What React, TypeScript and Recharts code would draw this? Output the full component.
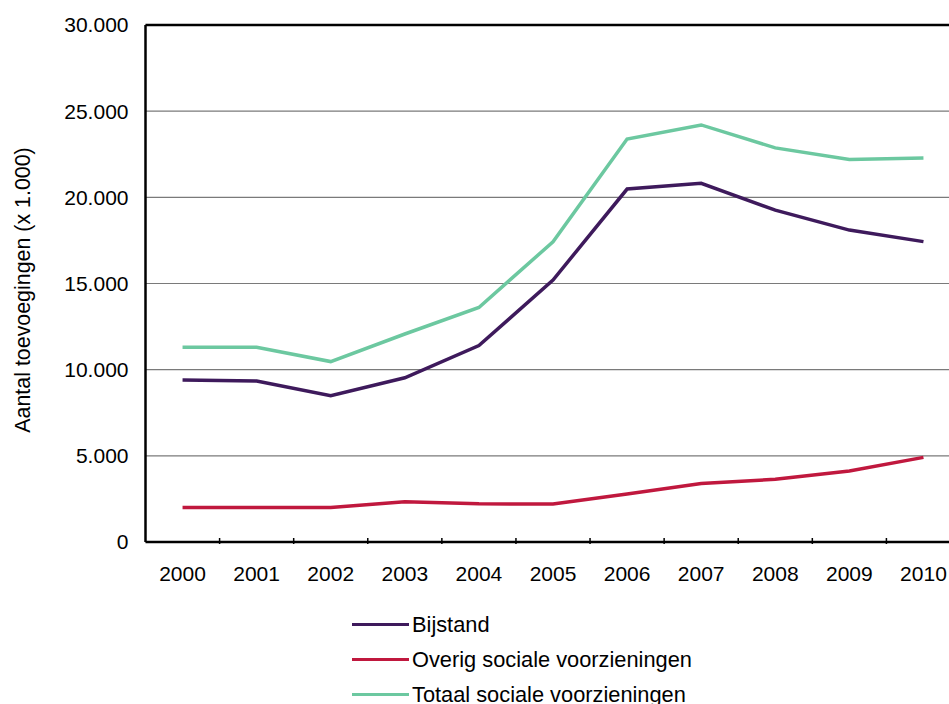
import { CartesianGrid, Line, LineChart, ReferenceLine, XAxis, YAxis } from 'recharts';

const years = ['2000', '2001', '2002', '2003', '2004', '2005', '2006', '2007', '2008', '2009', '2010'];
const bijstand = [9400, 9340, 8490, 9530, 11400, 15200, 20480, 20810, 19260, 18100, 17430];
const overig = [2000, 2000, 2000, 2340, 2220, 2200, 2790, 3400, 3640, 4120, 4910];
const totaal = [11300, 11300, 10470, 12070, 13610, 17420, 23380, 24200, 22870, 22200, 22280];
const yTicks = [0, 5000, 10000, 15000, 20000, 25000, 30000];

const series = [
  { key: 'bijstand', label: 'Bijstand', color: '#3e1a5c' },
  { key: 'overig', label: 'Overig sociale voorzieningen', color: '#c0183e' },
  { key: 'totaal', label: 'Totaal sociale voorzieningen', color: '#6cc8a0' },
];

const data = years.map((year, i) => ({
  year,
  bijstand: bijstand[i],
  overig: overig[i],
  totaal: totaal[i],
}));

const font = '"Liberation Sans", Arial, sans-serif';

// 25000 -> "25.000"
const formatThousands = (v: number) => String(v).replace(/\B(?=(\d{3})+(?!\d))/g, '.');

const renderYLabel = () => (
  <text
    transform="translate(23,290) rotate(-90)"
    textAnchor="middle"
    dominantBaseline="central"
    fontSize={21.4}
    fill="#000"
    fontFamily={font}
  >
    Aantal toevoegingen (x 1.000)
  </text>
);

// year label under the band centre, small tick mark on the right band edge (pointing into the plot)
const YearTick = (props: any) => {
  const { x, y, payload, index } = props;
  const half = payload.offset || 0;
  return (
    <g>
      {index < years.length - 1 && (
        <line x1={x + half} x2={x + half} y1={y} y2={y - 6} stroke="#000" strokeWidth={1.5} />
      )}
      <text x={x} y={y + 22} dy="0.71em" textAnchor="middle" fontSize={21} fill="#000" fontFamily={font}>
        {payload.value}
      </text>
    </g>
  );
};

export default function App() {
  return (
    <div
      style={{
        position: 'absolute',
        left: 0,
        top: 0,
        width: 949,
        height: 704,
        overflow: 'hidden',
        background: '#fff',
        fontFamily: font,
      }}
    >
      <LineChart
        width={970}
        height={704}
        data={data}
        margin={{ top: 25, right: 9.5, left: 0, bottom: 0 }}
        style={{ fontFamily: font }}
      >
        <CartesianGrid vertical={false} stroke="#7a7a7a" strokeWidth={1.2} />
        <XAxis
          dataKey="year"
          scale="band"
          height={162}
          tickLine={false}
          tickSize={0}
          axisLine={{ stroke: '#000', strokeWidth: 2.5 }}
          tick={<YearTick />}
          interval={0}
        />
        <YAxis
          width={145.5}
          domain={[0, 30000]}
          ticks={yTicks}
          tickFormatter={formatThousands}
          tickLine={false}
          tickSize={0}
          tickMargin={17}
          axisLine={{ stroke: '#000', strokeWidth: 2.5 }}
          tick={{ fontSize: 21, fill: '#000' }}
          label={{ content: renderYLabel }}
        />
        <ReferenceLine y={30000} stroke="#000" strokeWidth={2.5} />
        {series.map((s) => (
          <Line
            key={s.key}
            type="linear"
            dataKey={s.key}
            stroke={s.color}
            strokeWidth={3.5}
            dot={false}
            isAnimationActive={false}
          />
        ))}
      </LineChart>
      <div style={{ position: 'absolute', left: 352, top: 607 }}>
        {series.map((s) => (
          <div key={s.key} style={{ display: 'flex', alignItems: 'center', height: 35 }}>
            <div style={{ width: 57, height: 3.5, background: s.color, marginRight: 3 }} />
            <span style={{ fontSize: 21.8, color: '#000', lineHeight: '35px' }}>{s.label}</span>
          </div>
        ))}
      </div>
    </div>
  );
}
